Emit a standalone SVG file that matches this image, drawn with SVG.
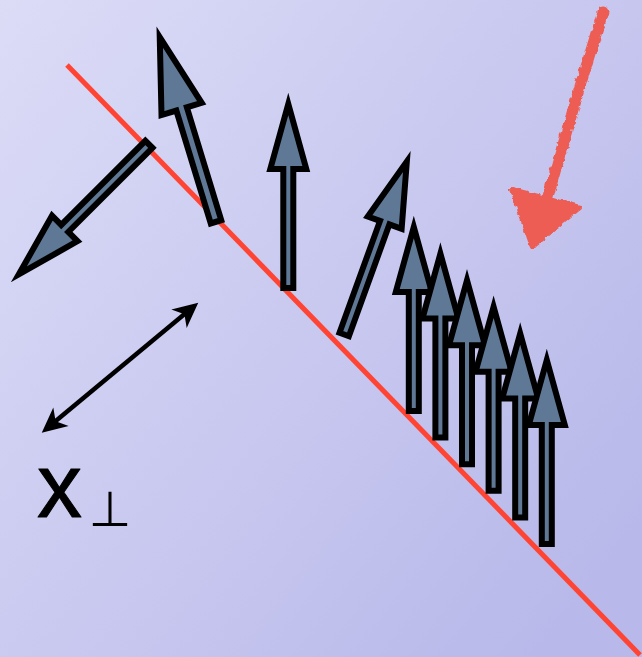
<svg xmlns="http://www.w3.org/2000/svg" xmlns:xlink="http://www.w3.org/1999/xlink" width="642" height="657" viewBox="0 0 642 657">
  <defs>
    <linearGradient id="bgGrad" x1="0" y1="0" x2="1" y2="0.8">
      <stop offset="0" stop-color="#dcdcf7"/>
      <stop offset="1" stop-color="#b8b8ea"/>
    </linearGradient>
    <path id="arr" d="M-5,0 V-119 H-18 L0,-184 L18,-119 H5 V0 Z"/>
    <path id="arrB" d="M-5.5,0 V-118 H-21 L0,-193 L21,-118 H5.5 V0 Z"/>
    <marker id="hd" viewBox="-26 -13 28 26" refX="-8" refY="0" markerWidth="28" markerHeight="26" markerUnits="userSpaceOnUse" orient="auto-start-reverse">
      <path d="M0,0 L-25,-12 L-18,0 L-25,12 Z" fill="#000"/>
    </marker>
    <filter id="rough" x="-20%" y="-20%" width="140%" height="140%">
      <feTurbulence type="fractalNoise" baseFrequency="0.18" numOctaves="2" seed="3" result="n"/>
      <feDisplacementMap in="SourceGraphic" in2="n" scale="5" xChannelSelector="R" yChannelSelector="G"/>
    </filter>
  </defs>
  <style>
    .ar { fill: #5f7896; stroke: #000; stroke-width: 6; stroke-linejoin: miter; }
    .red { stroke: #ff4433; stroke-width: 5; fill: none; }
    .hand { fill: #ee5d53; stroke: #ee5d53; }
    .lbl { font-family: "Liberation Sans", Arial, sans-serif; fill: #000; }
  </style>

  <rect id="background" x="0" y="0" width="642" height="657" fill="url(#bgGrad)"/>

  <g id="front-line">
    <line class="red" x1="67" y1="65" x2="640" y2="655"/>
  </g>

  <g id="arrow-left-down">
    <use href="#arr" class="ar" transform="translate(148.9,144.3) rotate(-135)"/>
  </g>
  <g id="arrow-left-up">
    <use href="#arrB" class="ar" transform="translate(216,221.8) rotate(-16.95)"/>
  </g>
  <g id="arrow-vertical">
    <use href="#arr" class="ar" transform="translate(288.3,288)"/>
  </g>
  <g id="arrow-tilted">
    <use href="#arr" class="ar" transform="translate(344.2,334.5) rotate(19.9)"/>
  </g>
  <g id="arrow-stack-1"><use href="#arr" class="ar" transform="translate(413.8,411)"/></g>
  <g id="arrow-stack-2"><use href="#arr" class="ar" transform="translate(440.4,437.6)"/></g>
  <g id="arrow-stack-3"><use href="#arr" class="ar" transform="translate(467,464.2)"/></g>
  <g id="arrow-stack-4"><use href="#arr" class="ar" transform="translate(493.6,490.8)"/></g>
  <g id="arrow-stack-5"><use href="#arr" class="ar" transform="translate(520.2,517.4)"/></g>
  <g id="arrow-stack-6"><use href="#arr" class="ar" transform="translate(546.8,544)"/></g>

  <g id="hand-arrow" filter="url(#rough)">
    <path d="M603,12 Q575,100 547,200" fill="none" stroke="#ee5d53" stroke-width="11" stroke-linecap="round"/>
    <polygon class="hand" points="512,189 580,207 532,247" stroke-width="4" stroke-linejoin="round"/>
  </g>

  <g id="connectors">
    <line x1="192.1" y1="307.8" x2="47.9" y2="427.6" stroke="#000" stroke-width="4.5" marker-start="url(#hd)" marker-end="url(#hd)"/>
  </g>

  <g id="label-xperp">
    <text class="lbl" x="37" y="517" font-size="90" stroke="#000" stroke-width="1" stroke-linejoin="round">x</text>
    <text x="110" y="526" font-size="49" text-anchor="middle" font-family="'DejaVu Sans', sans-serif" fill="#000">⊥</text>
  </g>
</svg>
